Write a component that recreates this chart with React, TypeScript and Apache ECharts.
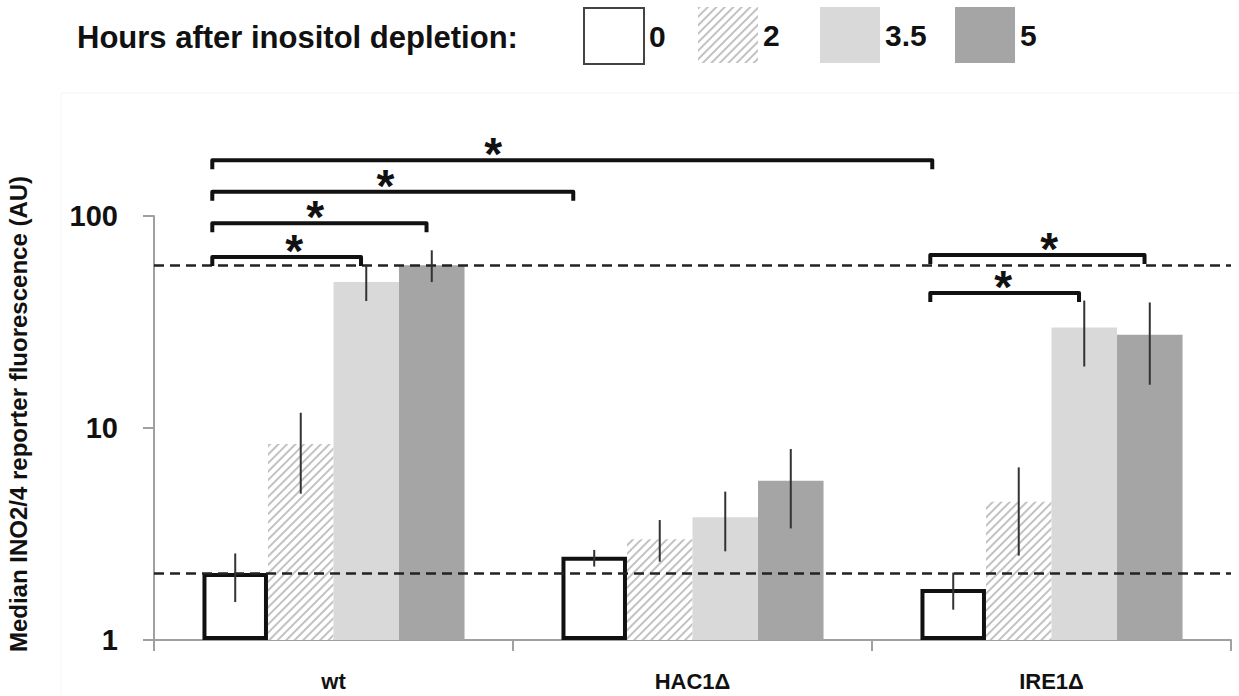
import React, { useEffect, useRef } from "react";
import * as echarts from "echarts";

// Strains on the x axis and hours after inositol depletion (one series each)
const CATEGORIES = ["wt", "HAC1Δ", "IRE1Δ"];
const HOURS = ["0", "2", "3.5", "5"];

// Median INO2/4 reporter fluorescence (AU), per strain
const MEDIAN_0H = [2.07, 2.47, 1.74];
const MEDIAN_2H = [8.4, 2.99, 4.49];
const MEDIAN_35H = [48.8, 3.79, 29.8];
const MEDIAN_5H = [58.6, 5.64, 27.5];

// Error bar ranges (low / high), per strain
const LOW_0H = [1.51, 2.22, 1.39];
const HIGH_0H = [2.56, 2.66, 2.08];
const LOW_2H = [4.9, 2.34, 2.5];
const HIGH_2H = [11.8, 3.68, 6.52];
const LOW_35H = [39.7, 2.62, 19.5];
const HIGH_35H = [58.9, 5.01, 39.9];
const LOW_5H = [48.8, 3.36, 16.0];
const HIGH_5H = [68.9, 7.96, 39.1];

// Significance brackets: [strain, hour index] pairs and the bracket level (AU)
const BRACKET_FROM = [[0, 0], [0, 0], [0, 0], [0, 0], [2, 0], [2, 0]];
const BRACKET_TO = [[2, 0], [1, 0], [0, 3], [0, 2], [2, 3], [2, 2]];
const BRACKET_LEVEL = [183, 130, 92.5, 64, 65.5, 43.3];

// Layout helpers (not data)
const STAR_ANCHOR = [0.39, 0.48, 0.48, 0.55, 0.555, 0.49];
const FONT = "'Liberation Sans', Arial, Helvetica, sans-serif";
const BAR_GAP = 0.27;

const MEDIANS = [MEDIAN_0H, MEDIAN_2H, MEDIAN_35H, MEDIAN_5H];
const LOWS = [LOW_0H, LOW_2H, LOW_35H, LOW_5H];
const HIGHS = [HIGH_0H, HIGH_2H, HIGH_35H, HIGH_5H];

export default function App() {
  const ref = useRef<HTMLDivElement>(null);

  useEffect(() => {
    if (!ref.current) return;
    const chart = echarts.init(ref.current, null, { renderer: "svg" });

    const barWidthOf = (api: any) => (api.size([1, 1])[0] * (1 - BAR_GAP)) / 4;

    const errorData: number[][] = [];
    HOURS.forEach((_, h) => {
      CATEGORIES.forEach((_, c) => {
        errorData.push([c, h, LOWS[h][c], HIGHS[h][c]]);
      });
    });

    const bracketData = BRACKET_LEVEL.map((lvl, i) => [
      BRACKET_FROM[i][0],
      BRACKET_FROM[i][1],
      BRACKET_TO[i][0],
      BRACKET_TO[i][1],
      lvl,
    ]);

    const styles: any[] = [
      { color: "#ffffff", borderColor: "#111111", borderWidth: 4 },
      {
        color: "#ffffff",
        decal: {
          symbol: "rect",
          symbolSize: 1,
          dashArrayX: [[1, 0]],
          dashArrayY: [1.5, 3.5],
          rotation: -Math.PI / 4,
          color: "#c2c2c2",
        },
      },
      { color: "#d9d9d9" },
      { color: "#a5a5a5" },
    ];

    const legendLeft = [583, 698, 820, 955];

    const barSeries: any[] = HOURS.map((h, i) => ({
      name: h,
      type: "bar",
      data: MEDIANS[i],
      barGap: "0%",
      barCategoryGap: BAR_GAP * 100 + "%",
      itemStyle: styles[i],
      emphasis: { disabled: true },
      ...(i === 0
        ? {
            markLine: {
              silent: true,
              symbol: "none",
              label: { show: false },
              lineStyle: { type: [10, 6], color: "#222", width: 2.5 },
              data: [{ yAxis: MEDIAN_0H[0] }, { yAxis: MEDIAN_5H[0] }],
            },
          }
        : {}),
    }));

    chart.setOption({
      animation: false,
      backgroundColor: "#ffffff",
      title: {
        text: "Hours after inositol depletion:",
        left: 77,
        top: 22,
        padding: 0,
        textStyle: { fontFamily: FONT, fontSize: 31, fontWeight: "bold", color: "#111" },
      },
      legend: HOURS.map((h, i) => ({
        data: [
          i === 0
            ? { name: h, itemStyle: { borderWidth: 2, borderColor: "#444" } }
            : { name: h },
        ],
        left: legendLeft[i],
        top: 7,
        padding: 0,
        icon: "rect",
        itemWidth: 60,
        itemHeight: 56,
        selectedMode: false,
        textStyle: { fontFamily: FONT, fontSize: 30, fontWeight: "bold", color: "#111" },
      })),
      graphic: [
        {
          type: "rect",
          silent: true,
          shape: { x: 61, y: 93, width: 1200, height: 640 },
          style: { fill: "none", stroke: "#f5f5f5", lineWidth: 1 },
        },
      ],
      grid: {
        left: 154,
        right: 8,
        top: 216,
        bottom: 56,
        containLabel: false,
        outerBoundsMode: "none",
      },
      xAxis: {
        type: "category",
        data: CATEGORIES,
        axisLine: { lineStyle: { color: "#a0a0a0", width: 2 } },
        axisTick: { show: true, length: 11, interval: 0, lineStyle: { color: "#a0a0a0", width: 2 } },
        axisLabel: {
          margin: 30,
          fontFamily: FONT,
          fontSize: 22,
          fontWeight: "bold",
          color: "#111",
        },
      },
      yAxis: {
        type: "log",
        logBase: 10,
        min: 1,
        max: 100,
        name: "Median INO2/4 reporter fluorescence (AU)",
        nameLocation: "middle",
        nameGap: 124,
        nameRotate: 90,
        nameTextStyle: {
          fontFamily: FONT,
          fontSize: 24,
          fontWeight: "bold",
          color: "#111",
          padding: [0, 0, 0, 28],
        },
        axisLine: { show: true, lineStyle: { color: "#a0a0a0", width: 2 } },
        axisTick: { show: true, length: 11, lineStyle: { color: "#a0a0a0", width: 2 } },
        splitLine: { show: false },
        minorTick: { show: false },
        axisLabel: {
          margin: 36,
          fontFamily: FONT,
          fontSize: 29,
          fontWeight: "bold",
          color: "#111",
        },
      },
      series: [
        ...barSeries,
        {
          type: "custom",
          name: "error",
          z: 5,
          silent: true,
          data: errorData,
          encode: { x: 0, y: [2, 3] },
          renderItem: (params: any, api: any) => {
            const c = api.value(0);
            const h = api.value(1);
            const bw = barWidthOf(api);
            const pLow = api.coord([c, api.value(2)]);
            const pHigh = api.coord([c, api.value(3)]);
            const x = pLow[0] + (h - 1.5) * bw;
            return {
              type: "line",
              shape: { x1: x, y1: pLow[1], x2: x, y2: pHigh[1] },
              style: { stroke: "#333", lineWidth: 2 },
            };
          },
        },
        {
          type: "custom",
          name: "significance",
          z: 6,
          silent: true,
          clip: false,
          data: bracketData,
          encode: { x: 0, y: 4 },
          renderItem: (params: any, api: any) => {
            const fc = api.value(0);
            const fb = api.value(1);
            const tc = api.value(2);
            const tb = api.value(3);
            const lvl = api.value(4);
            const bw = barWidthOf(api);
            const from = api.coord([fc, lvl]);
            const to = api.coord([tc, lvl]);
            const y = from[1];
            const x1 = from[0] + (fb - 1.5) * bw - 0.35 * bw;
            const x2 = to[0] + (tb - 1.5) * bw + (tb === 0 ? -0.32 : -0.08) * bw;
            const frac = STAR_ANCHOR[params.dataIndex];
            return {
              type: "group",
              children: [
                {
                  type: "polyline",
                  shape: { points: [[x1, y + 9], [x1, y], [x2, y], [x2, y + 9]] },
                  style: { stroke: "#111", lineWidth: 4, fill: "none", lineJoin: "round" },
                },
                {
                  type: "text",
                  x: x1 + (x2 - x1) * frac,
                  y: y - 6,
                  style: {
                    text: "*",
                    fontFamily: FONT,
                    fontSize: 46,
                    fontWeight: "bold",
                    fill: "#111",
                    align: "center",
                    verticalAlign: "middle",
                  },
                },
              ],
            };
          },
        },
      ],
    });

    return () => chart.dispose();
  }, []);

  return (
    <div
      ref={ref}
      style={{ position: "fixed", left: 0, top: 0, width: 1239, height: 696 }}
    />
  );
}
